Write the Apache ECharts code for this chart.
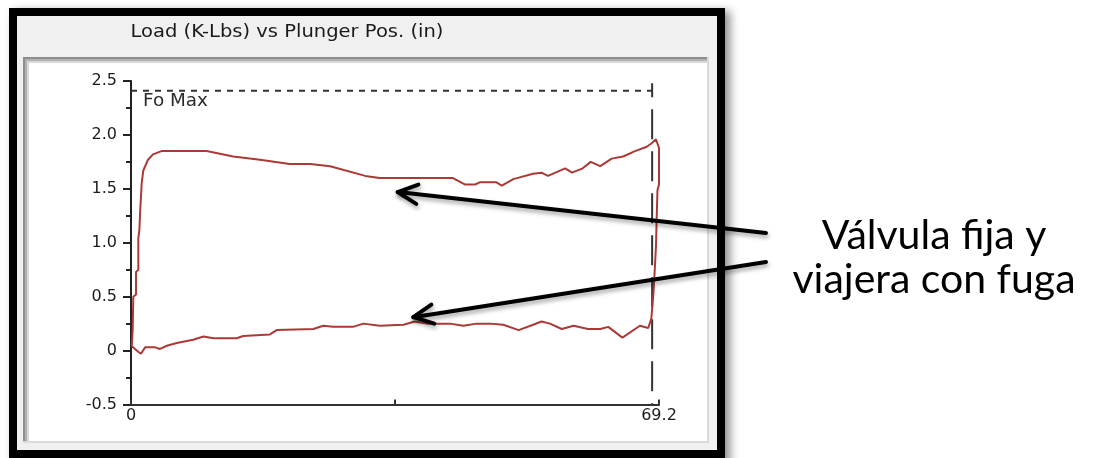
<!DOCTYPE html>
<html><head><meta charset="utf-8">
<script src="https://cdn.jsdelivr.net/npm/echarts@6/dist/echarts.min.js"></script>
<style>html,body{margin:0;padding:0;background:#fff}#c{width:1099px;height:458px}</style>
</head><body><div id="c"></div>
<script>
// ---- data ----
const titleText = 'Load (K-Lbs) vs Plunger Pos. (in)';
const annotationLines = ['Válvula fija y', 'viajera con fuga'];
const foMaxLabel = 'Fo Max';
const foMax = 2.41;
const strokeEnd = 68.3;
const xMin = 0, xMax = 69.2, xStep = 34.6;
const yMin = -0.5, yMax = 2.5, yStep = 0.5;
const xTickLabels = ['0', '69.2'];
// card traced in drawing order (upstroke, top, right side, bottom back to start)
const plungerPos = [0.1,0.22,0.3,0.66,0.66,0.96,0.96,1.1,1.2,1.4,1.61,2.23,2.88,4.0,9.9,13.4,16.9,20.8,23.5,26.1,30.7,32.6,42.2,43.8,45.1,45.7,47.9,48.6,50.1,52.7,53.8,54.65,56.9,57.8,59.2,60.25,61.5,63.0,64.5,66.05,67.6,68.2,68.8,69.2,
  69.2,69.0,68.9,68.8,68.5,68.2,67.8,
  66.7,64.4,62.55,61.5,59.9,58.0,56.45,54.9,53.8,52.7,50.8,48.8,47.05,45.3,43.55,41.8,38.75,37.2,35.7,32.6,30.45,29.1,26.5,25.2,23.9,19.1,18.2,14.7,13.85,10.8,9.5,8.15,6.0,4.7,3.8,3.15,1.85,1.3,0.95,0.1];
const loadKlbs = [0.04,0.19,0.5,0.52,0.73,0.75,1.04,1.12,1.29,1.55,1.67,1.77,1.82,1.85,1.85,1.8,1.77,1.73,1.73,1.71,1.62,1.6,1.6,1.54,1.54,1.56,1.56,1.53,1.59,1.64,1.65,1.62,1.69,1.65,1.69,1.75,1.71,1.78,1.8,1.85,1.89,1.92,1.96,1.88,
  1.54,1.49,1.24,0.96,0.56,0.3,0.21,
  0.23,0.12,0.22,0.2,0.2,0.23,0.2,0.25,0.27,0.24,0.19,0.24,0.25,0.25,0.23,0.25,0.25,0.27,0.24,0.23,0.25,0.22,0.22,0.23,0.2,0.19,0.15,0.135,0.115,0.115,0.13,0.1,0.07,0.045,0.015,0.03,0.03,-0.03,-0.01,0.04];
const arrowTips = [[34.95, 1.47], [37.0, 0.31]];   // data coords the arrows point at

// ---- chart ----
const chart = echarts.init(document.getElementById('c'), null, {renderer: 'canvas'});
const cardData = plungerPos.map((x, i) => [x, loadKlbs[i]]);
const fmtY = v => (Math.abs(v) < 1e-9 ? '0' : v.toFixed(1));
const fmtX = v => (Math.abs(v - xMin) < 1e-6 ? xTickLabels[0] : (Math.abs(v - xMax) < 1e-6 ? xTickLabels[1] : ''));
const labelFont = {fontFamily: '"DejaVu Sans", Verdana, sans-serif', fontSize: 16, color: '#1c1c1c'};

chart.setOption({
  animation: false,
  backgroundColor: '#ffffff',
  grid: {left: 131, top: 81, right: 440, bottom: 53.5, containLabel: false, outerBoundsMode: 'none'},
  xAxis: {
    type: 'value', min: xMin, max: xMax, interval: xStep,
    axisLine: {onZero: false, lineStyle: {color: '#333', width: 2}},
    axisTick: {inside: true, length: 5, lineStyle: {color: '#333', width: 2}},
    splitLine: {show: false},
    axisLabel: Object.assign({formatter: fmtX, margin: 3, showMinLabel: true, showMaxLabel: true}, labelFont)
  },
  yAxis: {
    type: 'value', min: yMin, max: yMax, interval: yStep,
    axisLine: {show: true, onZero: false, lineStyle: {color: '#222', width: 2}},
    axisTick: {show: true, length: 8, lineStyle: {color: '#222', width: 2}},
    minorTick: {show: true, splitNumber: 2, length: 5, lineStyle: {color: '#222', width: 2}},
    splitLine: {show: false},
    axisLabel: Object.assign({formatter: fmtY, margin: 14}, labelFont)
  },
  series: [
    {type: 'line', data: cardData, showSymbol: false, symbol: 'none', z: 4,
     lineStyle: {color: '#ab3a37', width: 2}},
    {type: 'line', data: [[xMin, foMax], [strokeEnd, foMax]], showSymbol: false, symbol: 'none', z: 3,
     lineStyle: {color: '#333', width: 2, type: [6, 6]}},
    {type: 'line', data: [[strokeEnd, 2.48], [strokeEnd, yMin]], showSymbol: false, symbol: 'none', z: 3,
     lineStyle: {color: '#333', width: 2, type: [30, 12], dashOffset: 16}}
  ]
});

// ---- frame, title and annotation graphics ----
const P = (x, y) => chart.convertToPixel({gridIndex: 0}, [x, y]);
const foPix = P(xMin, foMax);
const tails = [[766, 233], [766, 262]];
function arrow(tip, tail) {
  const dx = tail[0] - tip[0], dy = tail[1] - tip[1];
  const L = Math.hypot(dx, dy), ux = dx / L, uy = dy / L;
  const arm = (ang) => {
    const a = ang * Math.PI / 180;
    return [tip[0] + 22 * (ux * Math.cos(a) - uy * Math.sin(a)), tip[1] + 22 * (ux * Math.sin(a) + uy * Math.cos(a))];
  };
  const st = {stroke: '#000', lineWidth: 4, lineCap: 'round', lineJoin: 'round', fill: null,
              shadowBlur: 4, shadowOffsetX: 1, shadowOffsetY: 3, shadowColor: 'rgba(0,0,0,0.35)'};
  return [
    {type: 'polyline', shape: {points: [tail, tip]}, style: st, z: 100, silent: true},
    {type: 'polyline', shape: {points: [arm(-26), tip, arm(26)]}, style: st, z: 100, silent: true}
  ];
}
const txt = (text, x, y, font, fill, align, valign, z, sx) => ({
  type: 'text', x: x, y: y, z: z, silent: true, scaleX: sx || 1,
  style: {text: text, font: font, fill: fill, align: align, verticalAlign: valign, textAlign: align, textVerticalAlign: valign}
});

const graphics = [
  {type: 'rect', shape: {x: 9, y: 8, width: 716, height: 460}, style: {fill: '#000', shadowBlur: 9, shadowOffsetX: 5, shadowOffsetY: 3, shadowColor: 'rgba(0,0,0,0.45)'}, z: -100, silent: true},
  {type: 'rect', shape: {x: 17, y: 16, width: 700, height: 434}, style: {fill: '#f0f0f0'}, z: -99, silent: true},
  {type: 'rect', shape: {x: 23, y: 57, width: 686, height: 386}, style: {fill: '#dadada'}, z: -98, silent: true},
  {type: 'rect', shape: {x: 23, y: 57, width: 684, height: 384}, style: {fill: '#8e8e8e'}, z: -97, silent: true},
  {type: 'rect', shape: {x: 25, y: 59, width: 682, height: 382}, style: {fill: '#b2b2b2'}, z: -96, silent: true},
  {type: 'rect', shape: {x: 27, y: 61, width: 680, height: 380}, style: {fill: '#d8d8d8'}, z: -95, silent: true},
  {type: 'rect', shape: {x: 29, y: 63, width: 678, height: 378}, style: {fill: '#ffffff'}, z: -94, silent: true},
  txt(titleText, 287, 32, '18px "DejaVu Sans", Verdana, sans-serif', '#1a1a1a', 'center', 'middle', 10, 1.085),
  txt(foMaxLabel, foPix[0] + 12, foPix[1] + 11, '17px "DejaVu Sans", Verdana, sans-serif', '#2b2b2b', 'left', 'middle', 10, 1.08),
  txt(annotationLines[0], 934, 236, '41px Lato, "Open Sans", sans-serif', '#000', 'center', 'middle', 10, 1),
  txt(annotationLines[1], 934, 280, '41px Lato, "Open Sans", sans-serif', '#000', 'center', 'middle', 10, 1)
];
arrowTips.forEach((t, i) => graphics.push(...arrow(P(t[0], t[1]), tails[i])));
chart.setOption({graphic: {elements: graphics}});
</script>
</body></html>
